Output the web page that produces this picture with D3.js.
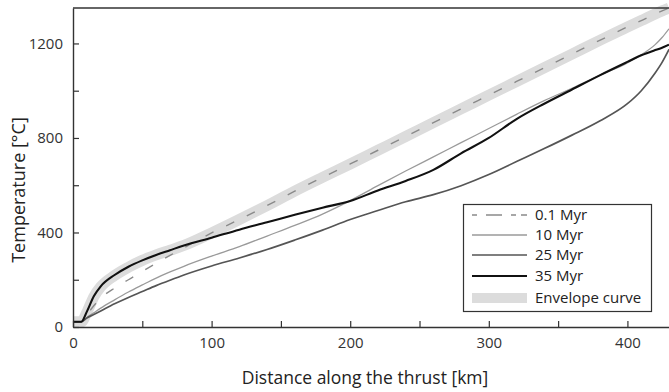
<!DOCTYPE html>
<html><head><meta charset="utf-8">
<script src="https://cdn.jsdelivr.net/npm/d3@7"></script>
<style>
html,body{margin:0;padding:0;background:#fff;}
svg{display:block;font-family:"Open Sans","Noto Sans",sans-serif;}
</style></head>
<body><svg id="c" width="669" height="392"></svg>
<script>
const distance = [0, 6, 10, 15, 20, 30, 40, 50, 60, 70, 80, 100, 120, 140, 160, 180, 200, 220, 240, 260, 280, 300, 320, 340, 360, 380, 400, 410, 420, 425, 430];
const t01  = [22, 22, 52, 90, 122, 165, 200, 235, 270, 303, 335, 398, 455, 514, 575, 633, 690, 748, 806, 865, 923, 981, 1039, 1097, 1155, 1213, 1270, 1297, 1325, 1338, 1350];
const t10  = [22, 22, 40, 60, 80, 115, 148, 178, 207, 233, 257, 300, 340, 385, 430, 478, 535, 598, 660, 720, 780, 840, 900, 958, 1010, 1065, 1118, 1152, 1195, 1225, 1262];
const t25  = [22, 22, 38, 53, 68, 98, 125, 150, 175, 198, 220, 258, 292, 328, 368, 410, 455, 493, 530, 560, 598, 645, 700, 755, 812, 872, 945, 1000, 1075, 1120, 1175];
const t35  = [22, 22, 65, 130, 172, 220, 255, 282, 305, 325, 345, 378, 412, 443, 475, 505, 533, 578, 618, 665, 735, 800, 880, 945, 1005, 1065, 1122, 1150, 1172, 1182, 1195];
const envelope = [22, 22, 62, 128, 170, 218, 253, 282, 305, 325, 345, 398, 455, 514, 575, 633, 690, 748, 806, 865, 923, 981, 1039, 1097, 1155, 1213, 1270, 1297, 1325, 1338, 1350];
const xTicks = [0, 50, 100, 150, 200, 250, 300, 350, 400];
const xLabels = [0, 100, 200, 300, 400];
const yTicks = [0, 200, 400, 600, 800, 1000, 1200];
const yLabels = [0, 400, 800, 1200];
const legendLabels = ["0.1 Myr", "10 Myr", "25 Myr", "35 Myr", "Envelope curve"];

const svg = d3.select("#c");
const L = 73, T = 8, R = 669, B = 327;
const x = d3.scaleLinear().domain([0, 430]).range([L, R]);
const y = d3.scaleLinear().domain([0, 1350]).range([B, T]);
const axisCol = "#333";

const line = vals => d3.line().x((d,i)=>x(distance[i])).y(d=>y(d)).curve(d3.curveMonotoneX)(vals);

// envelope band
svg.append("path").attr("d", line(envelope)).attr("fill","none")
  .attr("stroke","#dcdcdc").attr("stroke-width",11).attr("stroke-linejoin","round");

svg.append("path").attr("d", line(t10)).attr("fill","none").attr("stroke","#9a9a9a").attr("stroke-width",1.3);
svg.append("path").attr("d", line(t25)).attr("fill","none").attr("stroke","#555").attr("stroke-width",1.7);
svg.append("path").attr("d", line(t01)).attr("fill","none").attr("stroke","#8a8a8a").attr("stroke-width",1.4)
  .attr("stroke-dasharray","9,14");
svg.append("path").attr("d", line(t35)).attr("fill","none").attr("stroke","#111").attr("stroke-width",2.1);

// axes
const xAxis = d3.axisBottom(x).tickValues(xTicks).tickSizeInner(-6).tickSizeOuter(0)
  .tickFormat(d => xLabels.includes(d) ? d : "").tickPadding(10);
const gx = svg.append("g").attr("transform",`translate(0,${B})`).call(xAxis);
gx.select(".domain").attr("stroke",axisCol).attr("stroke-width",1.4);
gx.selectAll(".tick line").attr("stroke",axisCol).attr("stroke-width",1.2);
gx.selectAll("text").attr("fill","#333").attr("font-size",15).attr("font-family","Open Sans, sans-serif");

const yAxis = d3.axisLeft(y).tickValues(yTicks).tickSizeInner(-6).tickSizeOuter(0)
  .tickFormat(d => yLabels.includes(d) ? d : "").tickPadding(10);
const gy = svg.append("g").attr("transform",`translate(${L},0)`).call(yAxis);
gy.select(".domain").attr("stroke",axisCol).attr("stroke-width",1.4);
gy.selectAll(".tick line").attr("stroke",axisCol).attr("stroke-width",1.2);
gy.selectAll("text").attr("fill","#333").attr("font-size",15).attr("font-family","Open Sans, sans-serif");

// top border
svg.append("line").attr("x1",L).attr("x2",R).attr("y1",T).attr("y2",T).attr("stroke",axisCol).attr("stroke-width",1.4);

// axis titles
svg.append("text").attr("x",365).attr("y",384).attr("text-anchor","middle")
  .attr("font-size",17.5).attr("fill","#222").text("Distance along the thrust [km]");
svg.append("text").attr("transform","translate(25,190) rotate(-90)").attr("text-anchor","middle")
  .attr("font-size",18).attr("fill","#222").text("Temperature [°C]");

// legend
const lg = svg.append("g");
lg.append("rect").attr("x",463.5).attr("y",204.5).attr("width",188).attr("height",107)
  .attr("fill","#fff").attr("stroke",axisCol).attr("stroke-width",1.2);
const ly = [215, 235, 255, 276, 298];
const styles = [
  {stroke:"#8a8a8a", w:1.4, dash:"5,9,16,9,5"},
  {stroke:"#9a9a9a", w:1.3},
  {stroke:"#555", w:1.7},
  {stroke:"#111", w:2.1}
];
styles.forEach((s,i)=>{
  const l = lg.append("line").attr("x1",472).attr("x2",527).attr("y1",ly[i]).attr("y2",ly[i])
    .attr("stroke",s.stroke).attr("stroke-width",s.w);
  if (s.dash) l.attr("stroke-dasharray",s.dash);
});
lg.append("rect").attr("x",472).attr("y",ly[4]-5).attr("width",55).attr("height",10).attr("fill","#dcdcdc");
legendLabels.forEach((t,i)=>{
  lg.append("text").attr("x",535).attr("y",ly[i]).attr("dy","0.35em").attr("font-size",15)
    .attr("fill","#222").text(t);
});
</script></body></html>
